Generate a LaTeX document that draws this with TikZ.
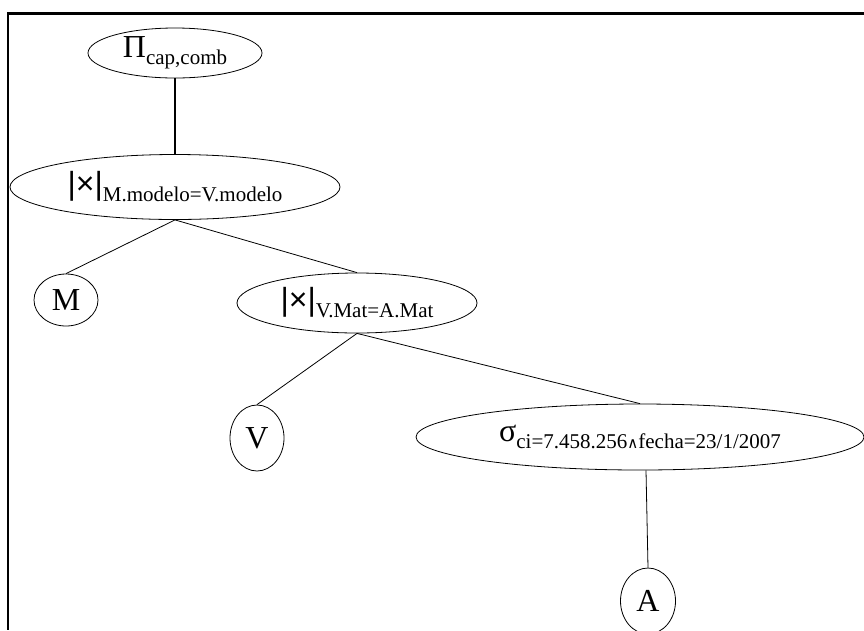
\documentclass[tikz,border=0pt]{standalone}
\usepackage{fontspec}
\setmainfont{Liberation Serif}
\newfontfamily\joinfont{Liberation Sans}
\newfontfamily\wedgefont{DejaVu Serif}
\usetikzlibrary{shapes.geometric}
\newcommand{\subidx}[1]{\raisebox{-7pt}{\fontsize{21}{24}\selectfont #1}}
\newcommand{\joinsym}{{\joinfont |×|}}
\newcommand{\andsym}{{\wedgefont\fontsize{15}{18}\selectfont ∧}}

\begin{document}
\begin{tikzpicture}[x=1pt,y=-1pt,
  op/.style={draw,ellipse,inner sep=0pt,line width=0.8pt,font=\fontsize{32}{36}\selectfont},
  edge/.style={line width=0.8pt}]
\useasboundingbox (0,0) rectangle (864,630);
\clip (0,0) rectangle (864,630);
\draw [line width=2.2pt] (864,13.5) -- (8,13.5) -- (8,630);

\node [op,minimum width=174pt,minimum height=50pt] (proj) at (175,53) {Π\subidx{cap,comb}};
\node [op,minimum width=330pt,minimum height=65pt] (joinmv) at (175,187) {\joinsym\subidx{M.modelo=V.modelo}};
\node [op,minimum width=64pt,minimum height=52pt] (m) at (66,300) {M};
\node [op,minimum width=240pt,minimum height=60pt] (joinva) at (357,303) {\joinsym\subidx{V.Mat=A.Mat}};
\node [op,minimum width=54pt,minimum height=66pt] (v) at (257,438) {V};
\node [op,minimum width=448pt,minimum height=66pt] (sel) at (640,437) {σ\subidx{ci=7.458.256\andsym fecha=23/1/2007}};
\node [op,minimum width=55pt,minimum height=66pt] (a) at (648,601) {A};

\draw [line width=1.5pt] (proj) -- (joinmv);
\draw [edge] (joinmv.south) -- (m.north);
\draw [edge] (joinmv.south) -- (joinva.north);
\draw [edge] (joinva.south) -- (v.north);
\draw [edge] (joinva.south) -- (sel.north);
\draw [edge] ([xshift=6pt]sel.south) -- (a.north);
\end{tikzpicture}
\end{document}
